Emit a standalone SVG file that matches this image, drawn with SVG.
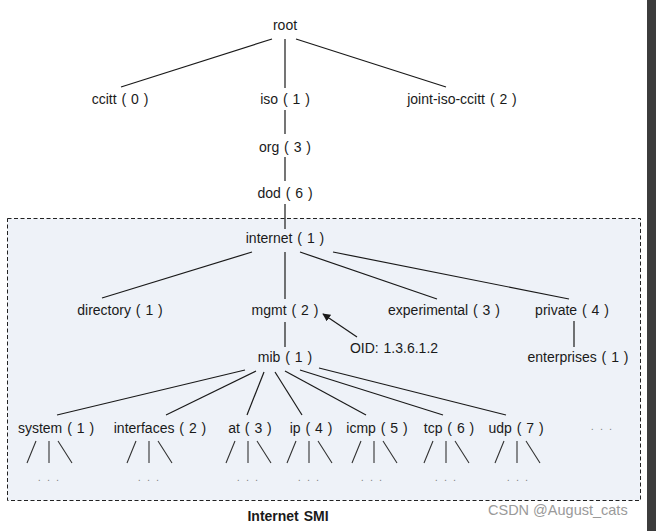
<svg xmlns="http://www.w3.org/2000/svg" width="656" height="531" viewBox="0 0 656 531">
<defs>
<style>
text{font-family:"Liberation Sans",Arial,sans-serif;font-size:14px;fill:#1a1a1a;text-anchor:middle;word-spacing:1px}
.ln{stroke:#1a1a1a;stroke-width:1.2;fill:none}
.sm{stroke:#333;stroke-width:1.1;fill:none}
.dots{fill:#888;font-size:11px;letter-spacing:1px}
.title{font-weight:bold}
.wm{fill:#9a9a9a;font-size:14.5px;text-anchor:start;word-spacing:0}
</style>
<marker id="ah" viewBox="0 0 10 10" refX="9" refY="5" markerWidth="8" markerHeight="8" orient="auto-start-reverse" markerUnits="userSpaceOnUse">
<path d="M0,0 L10,5 L0,10 z" fill="#1a1a1a"/>
</marker>
</defs>
<rect width="656" height="531" fill="#ffffff"/>
<rect x="647" y="0" width="9" height="531" fill="#3c3c3c"/>
<rect id="smi-box" x="7.5" y="218.5" width="633" height="282" fill="#eef2f8" stroke="#222" stroke-width="1" stroke-dasharray="4,2.5"/>

<g id="connectors">
<line class="ln" x1="272" y1="39" x2="121" y2="87"/>
<line class="ln" x1="285" y1="39" x2="285" y2="88"/>
<line class="ln" x1="296" y1="39" x2="446" y2="87"/>
<line class="ln" x1="285" y1="110" x2="285" y2="134"/>
<line class="ln" x1="285" y1="157" x2="285" y2="181"/>
<line class="ln" x1="285" y1="204" x2="285" y2="229"/>
<line class="ln" x1="252" y1="252" x2="102" y2="298"/>
<line class="ln" x1="285" y1="252" x2="285" y2="299"/>
<line class="ln" x1="300" y1="252" x2="437" y2="299"/>
<line class="ln" x1="333" y1="252" x2="569" y2="299"/>
<line class="ln" x1="285" y1="322" x2="285" y2="347"/>
<line class="ln" x1="574" y1="321" x2="574" y2="347"/>
<line class="ln" x1="357" y1="337" x2="323" y2="314" marker-end="url(#ah)"/>
<line class="ln" x1="245" y1="370" x2="57" y2="415"/>
<line class="ln" x1="256" y1="371" x2="166" y2="415"/>
<line class="ln" x1="264" y1="372" x2="247" y2="415"/>
<line class="ln" x1="275" y1="372" x2="302" y2="415"/>
<line class="ln" x1="285" y1="371" x2="366" y2="415"/>
<line class="ln" x1="300" y1="370" x2="443" y2="415"/>
<line class="ln" x1="319" y1="368" x2="506" y2="415"/>
</g>

<g id="root"><text x="285" y="30">root</text></g>
<g id="ccitt"><text x="120" y="104">ccitt ( 0 )</text></g>
<g id="iso"><text x="285" y="104">iso ( 1 )</text></g>
<g id="joint"><text x="462" y="104">joint-iso-ccitt ( 2 )</text></g>
<g id="org"><text x="285" y="152">org ( 3 )</text></g>
<g id="dod"><text x="285" y="198">dod ( 6 )</text></g>
<g id="internet"><text x="285" y="243">internet ( 1 )</text></g>
<g id="directory"><text x="120" y="315">directory ( 1 )</text></g>
<g id="mgmt"><text x="285" y="315">mgmt ( 2 )</text></g>
<g id="experimental"><text x="444" y="315">experimental ( 3 )</text></g>
<g id="private"><text x="572" y="315">private ( 4 )</text></g>
<g id="oid"><text x="394" y="353">OID: 1.3.6.1.2</text></g>
<g id="mib"><text x="285" y="362">mib ( 1 )</text></g>
<g id="enterprises"><text x="578" y="362">enterprises ( 1 )</text></g>

<g id="system"><text x="56" y="433">system ( 1 )</text>
<path class="sm" d="M36,441 L27,463 M49,441 L49,463 M58,441 L72,463"/><text class="dots" x="49" y="481">. . .</text></g>
<g id="interfaces"><text x="160" y="433">interfaces ( 2 )</text>
<path class="sm" d="M136,441 L127,463 M149,441 L149,463 M158,441 L172,463"/><text class="dots" x="149" y="481">. . .</text></g>
<g id="at"><text x="250" y="433">at ( 3 )</text>
<path class="sm" d="M235,441 L226,463 M248,441 L248,463 M257,441 L271,463"/><text class="dots" x="248" y="481">. . .</text></g>
<g id="ip"><text x="311" y="433">ip ( 4 )</text>
<path class="sm" d="M296,441 L287,463 M309,441 L309,463 M318,441 L332,463"/><text class="dots" x="309" y="481">. . .</text></g>
<g id="icmp"><text x="377" y="433">icmp ( 5 )</text>
<path class="sm" d="M361,441 L352,463 M374,441 L374,463 M383,441 L397,463"/><text class="dots" x="372" y="481">. . .</text></g>
<g id="tcp"><text x="449" y="433">tcp ( 6 )</text>
<path class="sm" d="M433,441 L424,463 M446,441 L446,463 M455,441 L469,463"/><text class="dots" x="446" y="481">. . .</text></g>
<g id="udp"><text x="516" y="433">udp ( 7 )</text>
<path class="sm" d="M504,441 L495,463 M517,441 L517,463 M526,441 L540,463"/><text class="dots" x="518" y="481">. . .</text></g>
<g id="more"><text class="dots" x="602" y="430">. . .</text></g>

<text class="title" x="288" y="521">Internet SMI</text>
<text class="wm" x="488" y="515">CSDN @August_cats</text>
</svg>
